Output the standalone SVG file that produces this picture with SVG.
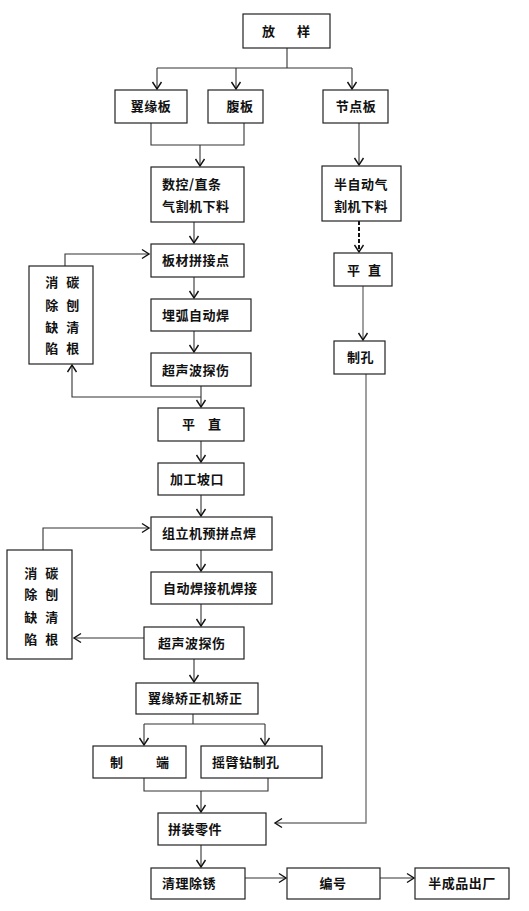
<svg xmlns="http://www.w3.org/2000/svg" width="529" height="911" viewBox="0 0 529 911">
<defs>
<style>
.b{fill:#fff;stroke:#222;stroke-width:1.2}
.t{font-family:"Noto Sans CJK SC","Noto Sans",sans-serif;font-size:13px;font-weight:bold;fill:#111;letter-spacing:0.5px}
.c{text-anchor:middle}
.l{fill:none;stroke:#333;stroke-width:1.1}
.g{fill:none;stroke:#777;stroke-width:1.4}
</style>
<marker id="a" markerUnits="userSpaceOnUse" markerWidth="12" markerHeight="12" refX="0" refY="0" viewBox="-9 -6 11 12" orient="auto">
<path d="M-7,-4.5 L0,0 L-7,4.5" fill="none" stroke="#111" stroke-width="1.4"/>
</marker>
</defs>
<rect width="529" height="911" fill="#fff"/>
<g id="connectors">
<path class="l" d="M287,48 V68 M157,68 H352"/>
<path class="l" d="M157,68 V89" marker-end="url(#a)"/>
<path class="l" d="M236,68 V89" marker-end="url(#a)"/>
<path class="l" d="M352,68 V89" marker-end="url(#a)"/>
<path class="l" d="M151,123 V145 H244 V123"/>
<path class="l" d="M200,145 V166" marker-end="url(#a)"/>
<path class="l" d="M359,123 V165" marker-end="url(#a)"/>
<path class="l" d="M194,222 V243" marker-end="url(#a)"/>
<path d="M359,221 V252" fill="none" stroke="#111" stroke-dasharray="4,2" stroke-width="2" marker-end="url(#a)"/>
<path class="g" d="M363,286 V340" marker-end="url(#a)"/>
<path class="g" d="M366,374 V823 H275" marker-end="url(#a)"/>
<path class="l" d="M65,266 V254 H149" marker-end="url(#a)"/>
<path class="l" d="M194,277 V298" marker-end="url(#a)"/>
<path class="l" d="M194,331 V352" marker-end="url(#a)"/>
<path class="l" d="M201,386 V407" marker-end="url(#a)"/>
<path class="l" d="M201,397 H72 V365" marker-end="url(#a)"/>
<path class="l" d="M201,441 V462" marker-end="url(#a)"/>
<path class="l" d="M201,495 V516" marker-end="url(#a)"/>
<path class="l" d="M43,550 V528 H149" marker-end="url(#a)"/>
<path class="l" d="M201,550 V571" marker-end="url(#a)"/>
<path class="l" d="M201,604 V626" marker-end="url(#a)"/>
<path class="l" d="M144,638 H74" marker-end="url(#a)"/>
<path class="l" d="M194,659 V682" marker-end="url(#a)"/>
<path class="l" d="M193,714 V724 M144,724 H265"/>
<path class="l" d="M144,724 V745" marker-end="url(#a)"/>
<path class="l" d="M265,724 V745" marker-end="url(#a)"/>
<path class="l" d="M144,778 V791 H268 V778"/>
<path class="l" d="M201,791 V812" marker-end="url(#a)"/>
<path class="l" d="M201,845 V867" marker-end="url(#a)"/>
<path class="l" d="M245,878 H286" marker-end="url(#a)"/>
<path class="l" d="M380,878 H414" marker-end="url(#a)"/>
</g>
<g id="n_fangyang"><rect class="b" x="243" y="14" width="87" height="34"/><text class="t" x="262" y="36">放</text><text class="t" x="297" y="36">样</text></g>
<g id="n_yiyuanban"><rect class="b" x="115" y="90" width="72" height="33"/><text class="t c" x="151" y="111">翼缘板</text></g>
<g id="n_fuban"><rect class="b" x="208" y="90" width="55" height="33"/><text class="t c" x="240" y="111">腹板</text></g>
<g id="n_jiedianban"><rect class="b" x="323" y="90" width="65" height="33"/><text class="t c" x="356" y="111">节点板</text></g>
<g id="n_shukong"><rect class="b" x="151" y="167" width="93" height="55"/><text class="t" x="162" y="189" letter-spacing="2">数控/直条</text><text class="t" x="162" y="211" letter-spacing="1">气割机下料</text></g>
<g id="n_banzidong"><rect class="b" x="322" y="166" width="79" height="55"/><text class="t" x="334" y="189" letter-spacing="1">半自动气</text><text class="t" x="334" y="211" letter-spacing="1">割机下料</text></g>
<g id="n_bancai"><rect class="b" x="151" y="244" width="93" height="33"/><text class="t" x="162" y="265">板材拼接点</text></g>
<g id="n_loop1"><rect class="b" x="29" y="266" width="64" height="98"/>
<text class="t c" x="52" y="287">消</text><text class="t c" x="73" y="287">碳</text>
<text class="t c" x="52" y="310">除</text><text class="t c" x="73" y="310">刨</text>
<text class="t c" x="52" y="332">缺</text><text class="t c" x="73" y="332">清</text>
<text class="t c" x="52" y="353">陷</text><text class="t c" x="73" y="353">根</text></g>
<g id="n_maihu"><rect class="b" x="151" y="299" width="100" height="32"/><text class="t" x="162" y="320">埋弧自动焊</text></g>
<g id="n_chaosheng1"><rect class="b" x="151" y="353" width="100" height="33"/><text class="t" x="162" y="375">超声波探伤</text></g>
<g id="n_pingzhi_r"><rect class="b" x="334" y="253" width="58" height="33"/><text class="t" x="347" y="275">平</text><text class="t" x="368" y="275">直</text></g>
<g id="n_zhikong"><rect class="b" x="334" y="341" width="51" height="33"/><text class="t" x="347" y="362">制孔</text></g>
<g id="n_pingzhi"><rect class="b" x="158" y="408" width="86" height="33"/><text class="t" x="182" y="429">平</text><text class="t" x="208" y="429">直</text></g>
<g id="n_jiagong"><rect class="b" x="158" y="463" width="86" height="32"/><text class="t" x="170" y="484">加工坡口</text></g>
<g id="n_zuli"><rect class="b" x="151" y="517" width="121" height="33"/><text class="t" x="162" y="538">组立机预拼点焊</text></g>
<g id="n_loop2"><rect class="b" x="7" y="550" width="65" height="109"/>
<text class="t c" x="31" y="578">消</text><text class="t c" x="52" y="578">碳</text>
<text class="t c" x="31" y="599">除</text><text class="t c" x="52" y="599">刨</text>
<text class="t c" x="31" y="622">缺</text><text class="t c" x="52" y="622">清</text>
<text class="t c" x="31" y="644">陷</text><text class="t c" x="52" y="644">根</text></g>
<g id="n_zidong"><rect class="b" x="151" y="572" width="121" height="32"/><text class="t" x="163" y="593">自动焊接机焊接</text></g>
<g id="n_chaosheng2"><rect class="b" x="144" y="627" width="100" height="32"/><text class="t" x="158" y="648">超声波探伤</text></g>
<g id="n_jiaozheng"><rect class="b" x="136" y="683" width="122" height="31"/><text class="t" x="148" y="703">翼缘矫正机矫正</text></g>
<g id="n_zhiduan"><rect class="b" x="93" y="746" width="93" height="32"/><text class="t" x="110" y="767">制</text><text class="t" x="156" y="767">端</text></g>
<g id="n_yaobi"><rect class="b" x="201" y="746" width="121" height="32"/><text class="t" x="212" y="767">摇臂钻制孔</text></g>
<g id="n_pinzhuang"><rect class="b" x="158" y="813" width="108" height="32"/><text class="t" x="168" y="834">拼装零件</text></g>
<g id="n_qingli"><rect class="b" x="151" y="868" width="94" height="31"/><text class="t" x="162" y="888">清理除锈</text></g>
<g id="n_bianhao"><rect class="b" x="287" y="868" width="93" height="31"/><text class="t c" x="333" y="888">编号</text></g>
<g id="n_chuchang"><rect class="b" x="415" y="868" width="94" height="31"/><text class="t c" x="462" y="888">半成品出厂</text></g>
</svg>
